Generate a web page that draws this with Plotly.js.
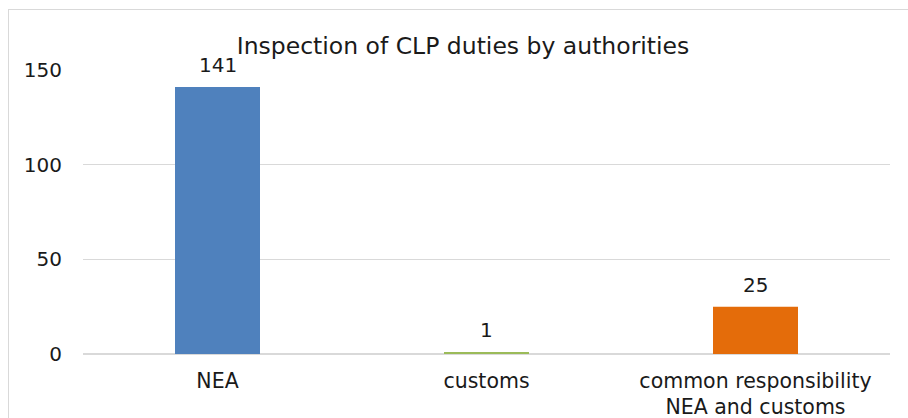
<!DOCTYPE html>
<html>
<head>
<meta charset="utf-8">
<script src="https://cdn.plot.ly/plotly-3.0.1.min.js"></script>
<style>
  html, body { margin: 0; padding: 0; background: #fff; }
  #wrap { position: relative; width: 908px; height: 418px; overflow: hidden; }
  #chart { width: 908px; height: 418px; }
  #frame { position: absolute; left: 8px; top: 9px; width: 920px; height: 430px; border: 1.5px solid #d9d9d9; pointer-events: none; box-sizing: border-box; }
</style>
</head>
<body>
<div id="wrap">
  <div id="chart"></div>
  <div id="frame"></div>
</div>
<script>
const categories = ["NEA", "customs", "common responsibility<br>NEA and customs"];
const values = [141, 1, 25];
const barColors = ["#4F81BD", "#9BBB59", "#E46C0A"];
const yTicks = [0, 50, 100, 150];

const font = "DejaVu Sans, Verdana, sans-serif";
const txt = "#1a1a1a";

const annotations = categories.map((c, i) => ({
  x: c, y: values[i], xref: "x", yref: "y",
  text: String(values[i]),
  showarrow: false,
  xanchor: "center", yanchor: "bottom",
  yshift: 8,
  font: { family: font, size: 20, color: txt }
}));

Plotly.newPlot("chart", [{
  type: "bar",
  x: categories,
  y: values,
  marker: { color: barColors },
  width: 0.316,
  cliponaxis: false,
  hoverinfo: "none"
}], {
  width: 908,
  height: 418,
  margin: { l: 83, r: 17.5, t: 70, b: 64 },
  paper_bgcolor: "#ffffff",
  plot_bgcolor: "#ffffff",
  showlegend: false,
  annotations: annotations,
  title: {
    text: "Inspection of CLP duties by authorities",
    font: { family: font, size: 23.5, color: txt },
    x: 463/908, xanchor: "center", xref: "container",
    y: 1 - 46/418, yanchor: "middle", yref: "container"
  },
  xaxis: {
    type: "category",
    range: [-0.5, 2.5],
    showgrid: false,
    zeroline: false,
    showline: false,
    ticks: "",
    tickfont: { family: font, size: 20.5, color: txt },
    ticklabelstandoff: 12
  },
  yaxis: {
    range: [0, 150],
    tickvals: yTicks,
    ticktext: yTicks.map(String),
    showgrid: true,
    gridcolor: "#d9d9d9",
    gridwidth: 1.5,
    zeroline: true,
    zerolinecolor: "#d9d9d9",
    zerolinewidth: 1.5,
    showline: false,
    ticks: "",
    ticklabelstandoff: 20,
    tickfont: { family: font, size: 20, color: txt }
  },
  font: { family: font, color: txt }
}, { displayModeBar: false, staticPlot: true });
</script>
</body>
</html>
